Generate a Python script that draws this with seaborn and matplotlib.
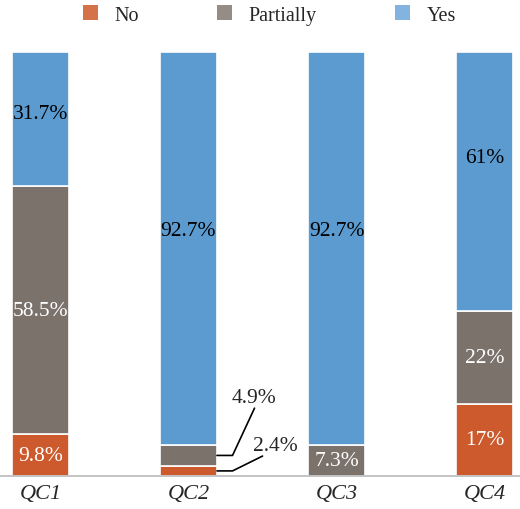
import pandas as pd
import numpy as np
import matplotlib
matplotlib.use("Agg")
import matplotlib.pyplot as plt
import seaborn as sns
from matplotlib.patches import Patch

# data (percent of answers)
questions = ["QC1", "QC2", "QC3", "QC4"]
responses = ["No", "Partially", "Yes"]
no_vals = [9.8, 2.4, 0.0, 17.0]
partial_vals = [58.5, 4.9, 7.3, 22.0]
yes_vals = [31.7, 92.7, 92.7, 61.0]
no_labels = ["9.8%", "2.4%", "", "17%"]
partial_labels = ["58.5%", "4.9%", "7.3%", "22%"]
yes_labels = ["31.7%", "92.7%", "92.7%", "61%"]

colors = {"No": "#CD5A2C", "Partially": "#7B726B", "Yes": "#5B9BCF"}
legend_colors = {"No": "#D4724A", "Partially": "#948C85", "Yes": "#83B3DF"}
text_colors = {"No": "white", "Partially": "white", "Yes": "black"}

df = pd.DataFrame({"question": questions, "No": no_vals,
                   "Partially": partial_vals, "Yes": yes_vals})

sns.set_theme(style="white")
plt.rcParams["font.family"] = ["Liberation Serif", "DejaVu Serif"]

fig = plt.figure(figsize=(5.2, 5.1), dpi=100)
ax = fig.add_axes([0, 33 / 510, 1, 424 / 510])

bar_w = 0.385
bottom = np.zeros(len(questions))
bottoms = {}
for r in responses:
    bottoms[r] = bottom.copy()
    sns.barplot(data=df, x="question", y=r, bottom=bottom, color=colors[r],
                width=bar_w, edgecolor="white", linewidth=1.2, ax=ax,
                saturation=1)
    bottom = bottom + df[r].values

# segment labels (the blue labels sit where the original placed them)
yes_label_y = [85.6, 57.8, 57.8, 75.2]
labels = {"No": no_labels, "Partially": partial_labels, "Yes": yes_labels}
fs = 15.5
for r in responses:
    for i, q in enumerate(questions):
        txt = labels[r][i]
        val = df[r].values[i]
        if not txt or q == "QC2" and r != "Yes":
            continue
        y = bottoms[r][i] + val / 2 if r != "Yes" else yes_label_y[i]
        ax.text(i, y, txt, ha="center", va="center", fontsize=fs,
                color=text_colors[r])

# callouts for the thin QC2 segments
edge = 1 + bar_w / 2
elbow = edge + 0.105
qi = questions.index("QC2")
p_mid = bottoms["Partially"][qi] + partial_vals[qi] / 2
n_mid = bottoms["No"][qi] + no_vals[qi] / 2
ax.plot([edge, elbow, 1.446], [p_mid, p_mid, 16.0], color="black", lw=1.2)
ax.text(1.44, 18.4, partial_labels[qi], ha="center", va="center", fontsize=fs)
ax.plot([edge, elbow, 1.50], [n_mid, n_mid, 4.7], color="black", lw=1.2)
ax.text(1.585, 7.3, no_labels[qi], ha="center", va="center", fontsize=fs)

ax.set_xlim(-0.273, 3.239)
ax.set_ylim(0, 100)
ax.set_xlabel("")
ax.set_ylabel("")
ax.set_yticks([])
ax.tick_params(axis="x", length=0, pad=6)
for lab in ax.get_xticklabels():
    lab.set_fontstyle("italic")
    lab.set_fontsize(16)
for s in ["top", "left", "right"]:
    ax.spines[s].set_visible(False)
ax.spines["bottom"].set_color("#BFBFBF")
ax.spines["bottom"].set_linewidth(1.3)

handles = [Patch(facecolor=legend_colors[r], edgecolor="none", label=r)
           for r in responses]
fig.legend(handles=handles, loc="center", ncol=3,
           bbox_to_anchor=(269.5 / 520, 1 - 16 / 510), frameon=False,
           fontsize=14.5, handlelength=0.75, handleheight=0.75,
           handletextpad=0.8, columnspacing=3.9)

fig.savefig("out.png", dpi=100)
